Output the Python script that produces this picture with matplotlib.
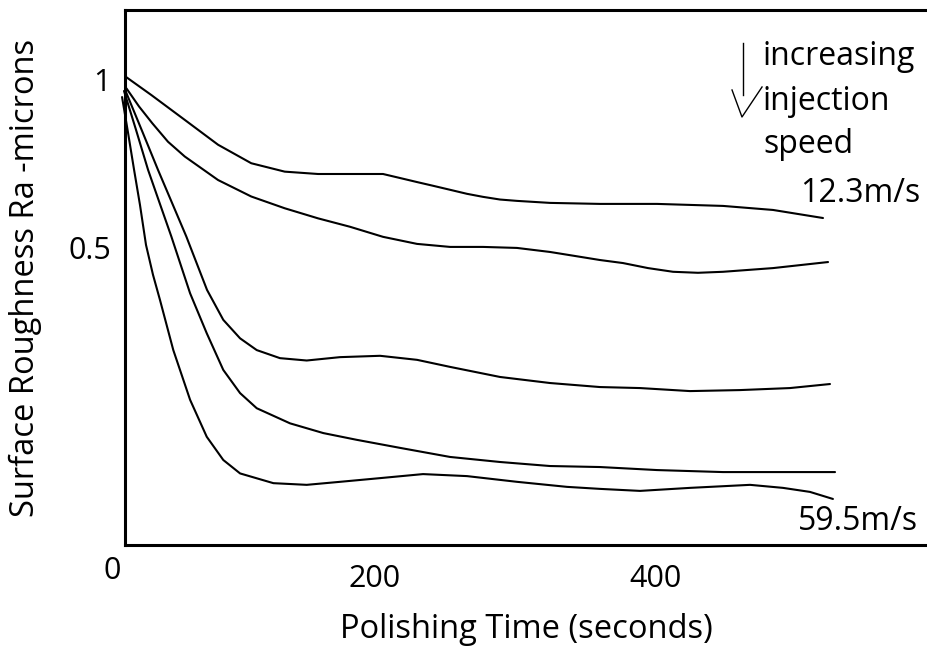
import matplotlib
matplotlib.use("Agg")
import matplotlib.pyplot as plt

plt.rcParams['font.family'] = ['Open Sans', 'DejaVu Sans']

# Polishing time (s) and surface roughness Ra (microns)
t1 = [22.4, 40.2, 64.1, 87.9, 111.6, 135.5, 159.3, 192.9, 205.7, 217.9, 230.0, 241.4, 253.6, 265.7,
      277.1, 289.3, 301.4, 325.0, 360.7, 401.4, 448.6, 484.3, 520.0]
ra1 = [1.008, 0.955, 0.881, 0.807, 0.752, 0.727, 0.720, 0.720, 0.720, 0.708, 0.696, 0.685, 0.673, 0.661,
       0.652, 0.644, 0.640, 0.634, 0.631, 0.631, 0.625, 0.613, 0.589]

t2 = [22.4, 31.4, 40.9, 52.1, 64.1, 87.9, 111.6, 135.5, 159.3, 182.1, 205.7, 230.0, 253.6, 277.1,
      301.4, 325.0, 342.9, 360.7, 377.1, 395.0, 412.9, 430.7, 448.6, 484.3, 523.6]
ra2 = [0.975, 0.921, 0.871, 0.816, 0.772, 0.702, 0.653, 0.618, 0.588, 0.563, 0.533, 0.512, 0.503, 0.503,
       0.500, 0.488, 0.476, 0.464, 0.455, 0.440, 0.429, 0.426, 0.429, 0.440, 0.458]

t3 = [22.1, 33.6, 45.0, 55.0, 65.2, 80.0, 91.6, 103.6, 115.5, 132.1, 151.2, 175.0, 203.6, 230.0,
      253.6, 289.3, 325.0, 360.7, 389.3, 425.0, 460.7, 496.4, 525.0]
ra3 = [0.964, 0.848, 0.732, 0.634, 0.534, 0.375, 0.286, 0.231, 0.196, 0.172, 0.165, 0.175, 0.179, 0.167,
       0.146, 0.116, 0.098, 0.086, 0.083, 0.074, 0.077, 0.083, 0.095]

t4 = [20.7, 29.3, 37.9, 46.1, 54.5, 67.9, 79.8, 91.6, 103.6, 115.5, 139.3, 163.1, 186.9, 217.9,
      253.6, 289.3, 325.0, 360.7, 401.4, 448.6, 528.6]
ra4 = [0.967, 0.851, 0.732, 0.634, 0.534, 0.365, 0.246, 0.137, 0.068, 0.023, -0.022, -0.051, -0.071, -0.095,
       -0.122, -0.137, -0.149, -0.152, -0.161, -0.167, -0.167]

t5 = [19.3, 23.6, 27.9, 32.1, 36.4, 41.4, 46.4, 55.9, 67.9, 79.8, 91.6, 103.6, 127.4, 151.2, 175.0,
      203.6, 234.3, 265.7, 301.4, 337.1, 360.7, 389.3, 425.0, 467.9, 491.4, 510.7, 527.1]
ra5 = [0.949, 0.842, 0.732, 0.628, 0.509, 0.420, 0.345, 0.196, 0.048, -0.062, -0.131, -0.171, -0.200, -0.205,
       -0.196, -0.185, -0.173, -0.179, -0.196, -0.211, -0.217, -0.223, -0.214, -0.205, -0.214, -0.226, -0.247]

series = [(t1, ra1), (t2, ra2), (t3, ra3), (t4, ra4), (t5, ra5)]

x_ticks = [200, 400]
x_tick_labels = ["200", "400"]
y_ticks = [0.5, 1.0]
y_tick_labels = ["0.5", "1"]

fig = plt.figure(figsize=(9.27, 6.46), dpi=100)
ax = fig.add_axes([125 / 927, 1 - 545 / 646, 1 - 125 / 927, (545 - 10) / 646])

for t, ra in series:
    ax.plot(t, ra, color='black', lw=1.5, clip_on=False,
            solid_capstyle='round', solid_joinstyle='round')

ax.set_xlim(21.4, 594.3)
ax.set_ylim(-0.384, 1.208)

ax.set_xticks(x_ticks)
ax.set_xticklabels(x_tick_labels)
ax.set_yticks(y_ticks)
ax.set_yticklabels(y_tick_labels)
ax.tick_params(axis='x', length=0, pad=14, labelsize=22)
ax.tick_params(axis='y', length=0, pad=10, labelsize=22)

for s in ['left', 'top', 'bottom']:
    ax.spines[s].set_linewidth(2.2)
ax.spines['right'].set_visible(False)

ax.set_xlabel("Polishing Time (seconds)", fontsize=23.5)
ax.xaxis.set_label_coords(0.501, -0.128)
ax.set_ylabel("Surface Roughness Ra -microns", fontsize=23.5)
ax.yaxis.set_label_coords(-0.104, 0.5)

ax.text(-0.016, -0.049, "0", transform=ax.transAxes, ha='center', va='center', fontsize=22)

fs = 23
ax.text(0.7955, 0.897, "increasing", transform=ax.transAxes, fontsize=fs, va='baseline')
ax.text(0.7955, 0.813, "injection", transform=ax.transAxes, fontsize=fs, va='baseline')
ax.text(0.7955, 0.733, "speed", transform=ax.transAxes, fontsize=fs, va='baseline')
ax.text(0.8416, 0.641, "12.3m/s", transform=ax.transAxes, fontsize=fs, va='baseline')
ax.text(0.839, 0.028, "59.5m/s", transform=ax.transAxes, fontsize=fs, va='baseline')

# downward arrow annotation
ax.plot([0.7706, 0.7706], [0.9383, 0.8411], transform=ax.transAxes, color='black', lw=1.0, clip_on=False)
ax.plot([0.7569, 0.7693, 0.7943], [0.8505, 0.80, 0.8561], transform=ax.transAxes, color='black', lw=1.0, clip_on=False)

fig.savefig("out.png", dpi=100)
